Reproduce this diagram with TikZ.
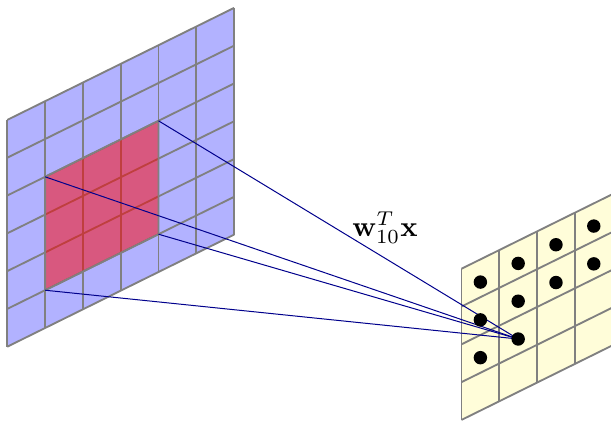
\documentclass[tikz,border=0pt]{standalone}

\begin{document}
\begin{tikzpicture}[
    x={(13.23pt,6.535pt)}, y={(0pt,13.23pt)},
    gridline/.style={gray, line width=0.65pt},
    link/.style={blue!55!black, line width=0.35pt},
    dot/.style={circle, fill=black, inner sep=0pt, minimum size=4.7pt},
    label/.style={font=\normalsize}
]
\useasboundingbox (-2.555pt,-26.355pt) rectangle (211.3pt,121.35pt);

% Input plane
\fill[blue!30] (0,0) -- (6,0) -- (6,6) -- (0,6) -- cycle;
\foreach \i in {0,...,6} {
    \draw[gridline] (\i,0) -- (\i,6);
    \draw[gridline] (0,\i) -- (6,\i);
}

% Receptive field
\fill[red, opacity=0.5] (1,1) -- (4,1) -- (4,4) -- (1,4) -- cycle;
\draw[gridline] (1,1) -- (4,1) -- (4,4) -- (1,4) -- cycle;
\coordinate (f1) at (1,4);
\coordinate (f2) at (4,4);
\coordinate (f3) at (4,1);
\coordinate (f4) at (1,1);

% Output plane
\begin{scope}[shift={(12.016,-7.873)}]
    \fill[yellow!15] (0,0) -- (4,0) -- (4,4) -- (0,4) -- cycle;
    \foreach \i in {0,...,4} {
        \draw[gridline] (\i,0) -- (\i,4);
        \draw[gridline] (0,\i) -- (4,\i);
    }
    \coordinate (out) at (1.5,1.4);
\end{scope}

% Connections: field to output unit
\foreach \j in {1,2,3,4} {
    \draw[link] (f\j) -- (out);
}

% Output units
\begin{scope}[shift={(12.016,-7.873)}]
    \foreach \c/\r in {0/3,0/2,0/1,1/3,1/2,2/3,2/2,3/3,3/2} {
        \node[dot] (d\c\r) at (\c+0.5,\r+0.4) {};
    }
    \node[dot] (d11) at (out) {};
\end{scope}

% Weight label
\node[label, anchor=base] (wlabel) at (132.2pt,38.7pt) {$\mathbf{w}_{10}^T\mathbf{x}$};

\end{tikzpicture}
\end{document}
